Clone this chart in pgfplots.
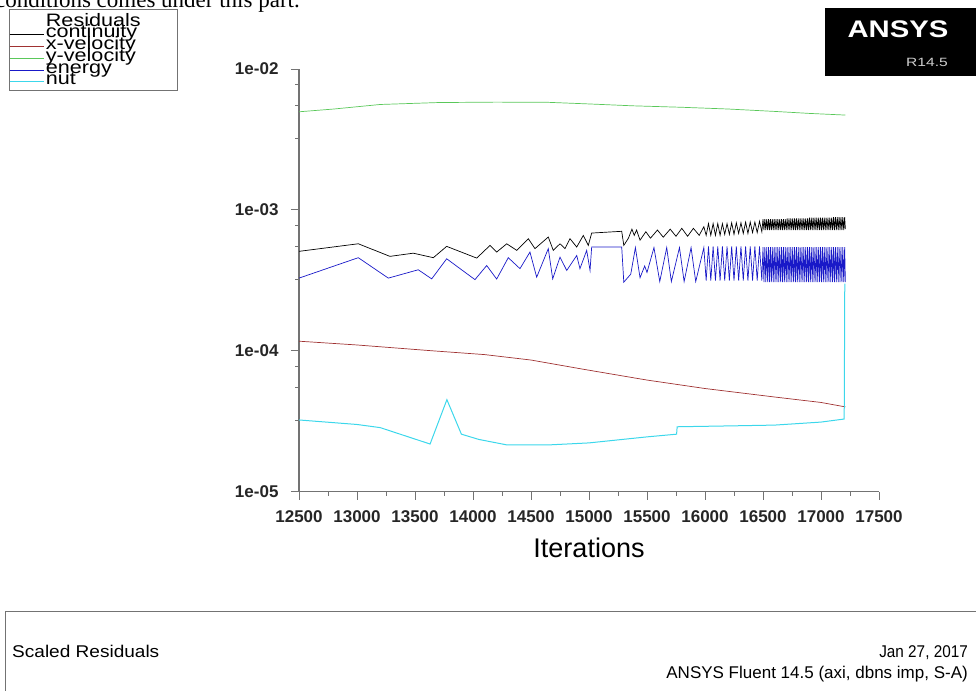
\documentclass[border=0pt]{standalone}
\usepackage{fontspec}
\setmainfont{Liberation Sans}
\newfontfamily\serifface{Liberation Serif}
\usepackage{pgfplots}
\usepackage{pgfplotstable}
\pgfplotsset{compat=1.18}

\definecolor{cont}{RGB}{0,0,0}
\definecolor{xvel}{RGB}{160,50,50}
\definecolor{yvel}{RGB}{90,200,90}
\definecolor{ener}{RGB}{25,25,200}
\definecolor{nutc}{RGB}{60,215,235}
\definecolor{axgray}{RGB}{115,115,115}
\newcommand{\legtxt}[1]{\scalebox{1.2}[1]{#1}}

\pgfplotstableread{
it v
12500 4.97e-3
12800 5.20e-3
13200 5.60e-3
13700 5.78e-3
14200 5.82e-3
14650 5.80e-3
15000 5.65e-3
15375 5.48e-3
15800 5.35e-3
16200 5.20e-3
16600 5.00e-3
16900 4.84e-3
17210 4.71e-3
}\yveltab

\pgfplotstableread{
it v
12500 1.17e-4
13000 1.10e-4
13650 1.00e-4
14100 9.40e-5
14500 8.60e-5
14950 7.40e-5
15500 6.20e-5
16000 5.40e-5
16600 4.70e-5
17000 4.30e-5
17210 4.00e-5
}\xveltab

\pgfplotstableread{
it v
12500 3.23e-5
13000 3.00e-5
13200 2.85e-5
13630 2.18e-5
13775 4.50e-5
13900 2.56e-5
14050 2.35e-5
14290 2.15e-5
14660 2.15e-5
15000 2.22e-5
15500 2.45e-5
15755 2.56e-5
15760 2.89e-5
16200 2.93e-5
16600 2.97e-5
17000 3.12e-5
17200 3.28e-5
17205 3.00e-4
}\nuttab

\pgfplotstableread{
it v
12500 5.08e-4
13011 5.75e-4
13284 4.68e-4
13485 4.93e-4
13658 4.58e-4
13773 5.51e-4
14032 4.55e-4
14147 5.60e-4
14204 5.02e-4
14291 5.75e-4
14377 5.16e-4
14477 6.25e-4
14534 5.31e-4
14649 6.42e-4
14692 5.16e-4
14750 5.75e-4
14793 5.31e-4
14836 6.25e-4
14894 5.45e-4
14951 6.59e-4
14994 5.60e-4
15023 6.85e-4
15282 7.05e-4
15300 5.60e-4
15340 6.30e-4
15370 7.30e-4
15390 6.60e-4
15410 7.20e-4
15440 6.10e-4
15490 7.00e-4
15530 6.30e-4
15590 7.20e-4
15640 6.40e-4
15700 7.30e-4
15750 6.50e-4
15800 7.40e-4
15850 6.50e-4
15900 7.40e-4
15950 6.60e-4
15990 7.60e-4
16010 6.60e-4
16030 8.00e-4
16050 6.60e-4
16070 8.00e-4
16090 6.60e-4
16110 8.00e-4
16130 6.60e-4
16150 8.00e-4
16170 6.70e-4
16190 8.00e-4
16210 6.70e-4
16230 8.10e-4
16250 6.70e-4
16270 8.10e-4
16290 6.80e-4
16310 8.10e-4
16330 6.80e-4
16350 8.20e-4
16370 6.80e-4
16390 8.20e-4
16410 6.90e-4
16430 8.20e-4
16450 6.90e-4
16470 8.30e-4
16490 7.00e-4
16500 8.60e-4
16508 7.20e-4
16516 8.60e-4
16524 7.20e-4
16532 8.60e-4
16540 7.20e-4
16548 8.60e-4
16556 7.20e-4
16564 8.60e-4
16572 7.20e-4
16580 8.60e-4
16588 7.20e-4
16596 8.60e-4
16604 7.20e-4
16612 8.60e-4
16620 7.20e-4
16628 8.60e-4
16636 7.20e-4
16644 8.60e-4
16652 7.20e-4
16660 8.60e-4
16668 7.20e-4
16676 8.60e-4
16684 7.20e-4
16692 8.60e-4
16700 7.20e-4
16708 8.70e-4
16716 7.20e-4
16724 8.70e-4
16732 7.20e-4
16740 8.70e-4
16748 7.20e-4
16756 8.70e-4
16764 7.20e-4
16772 8.70e-4
16780 7.20e-4
16788 8.70e-4
16796 7.20e-4
16804 8.70e-4
16812 7.20e-4
16820 8.70e-4
16828 7.20e-4
16836 8.70e-4
16844 7.20e-4
16852 8.70e-4
16860 7.20e-4
16868 8.70e-4
16876 7.20e-4
16884 8.70e-4
16892 7.20e-4
16900 8.80e-4
16908 7.20e-4
16916 8.80e-4
16924 7.20e-4
16932 8.80e-4
16940 7.20e-4
16948 8.80e-4
16956 7.20e-4
16964 8.80e-4
16972 7.20e-4
16980 8.80e-4
16988 7.20e-4
16996 8.80e-4
17004 7.20e-4
17012 8.80e-4
17020 7.20e-4
17028 8.80e-4
17036 7.20e-4
17044 8.80e-4
17052 7.20e-4
17060 8.80e-4
17068 7.20e-4
17076 8.80e-4
17084 7.20e-4
17092 8.80e-4
17100 7.20e-4
17108 8.90e-4
17116 7.20e-4
17124 8.90e-4
17132 7.20e-4
17140 8.90e-4
17148 7.20e-4
17156 8.90e-4
17164 7.20e-4
17172 8.90e-4
17180 7.20e-4
17188 8.90e-4
17196 7.20e-4
17204 8.90e-4
17210 7.30e-4
}\conttab

\pgfplotstableread{
it v
12500 3.28e-4
13011 4.58e-4
13270 3.28e-4
13528 3.76e-4
13644 3.24e-4
13773 4.50e-4
14017 3.20e-4
14118 4.03e-4
14204 3.23e-4
14304 4.58e-4
14405 3.83e-4
14491 5.02e-4
14549 3.33e-4
14649 5.31e-4
14687 3.24e-4
14750 4.62e-4
14808 3.72e-4
14894 4.75e-4
14922 3.83e-4
14980 5.16e-4
15009 3.72e-4
15023 5.45e-4
15282 5.45e-4
15300 3.07e-4
15360 3.50e-4
15400 5.40e-4
15440 3.30e-4
15480 4.00e-4
15500 3.60e-4
15560 5.40e-4
15610 3.10e-4
15670 5.40e-4
15710 3.10e-4
15780 5.40e-4
15820 3.10e-4
15880 5.40e-4
15920 3.10e-4
15990 5.40e-4
16010 3.15e-4
16030 5.50e-4
16050 3.15e-4
16070 5.50e-4
16090 3.15e-4
16110 5.50e-4
16130 3.15e-4
16150 5.50e-4
16170 3.15e-4
16190 5.50e-4
16210 3.15e-4
16230 5.50e-4
16250 3.15e-4
16270 5.50e-4
16290 3.15e-4
16310 5.50e-4
16330 3.15e-4
16350 5.50e-4
16370 3.15e-4
16390 5.50e-4
16410 3.15e-4
16430 5.50e-4
16450 3.15e-4
16470 5.50e-4
16490 3.15e-4
16500 5.45e-4
16508 3.07e-4
16516 5.45e-4
16524 3.07e-4
16532 5.45e-4
16540 3.07e-4
16548 5.45e-4
16556 3.07e-4
16564 5.45e-4
16572 3.07e-4
16580 5.45e-4
16588 3.07e-4
16596 5.45e-4
16604 3.07e-4
16612 5.45e-4
16620 3.07e-4
16628 5.45e-4
16636 3.07e-4
16644 5.45e-4
16652 3.07e-4
16660 5.45e-4
16668 3.07e-4
16676 5.45e-4
16684 3.07e-4
16692 5.45e-4
16700 3.07e-4
16708 5.45e-4
16716 3.07e-4
16724 5.45e-4
16732 3.07e-4
16740 5.45e-4
16748 3.07e-4
16756 5.45e-4
16764 3.07e-4
16772 5.45e-4
16780 3.07e-4
16788 5.45e-4
16796 3.07e-4
16804 5.45e-4
16812 3.07e-4
16820 5.45e-4
16828 3.07e-4
16836 5.45e-4
16844 3.07e-4
16852 5.45e-4
16860 3.07e-4
16868 5.45e-4
16876 3.07e-4
16884 5.45e-4
16892 3.07e-4
16900 5.45e-4
16908 3.07e-4
16916 5.45e-4
16924 3.07e-4
16932 5.45e-4
16940 3.07e-4
16948 5.45e-4
16956 3.07e-4
16964 5.45e-4
16972 3.07e-4
16980 5.45e-4
16988 3.07e-4
16996 5.45e-4
17004 3.07e-4
17012 5.45e-4
17020 3.07e-4
17028 5.45e-4
17036 3.07e-4
17044 5.45e-4
17052 3.07e-4
17060 5.45e-4
17068 3.07e-4
17076 5.45e-4
17084 3.07e-4
17092 5.45e-4
17100 3.07e-4
17108 5.45e-4
17116 3.07e-4
17124 5.45e-4
17132 3.07e-4
17140 5.45e-4
17148 3.07e-4
17156 5.45e-4
17164 3.07e-4
17172 5.45e-4
17180 3.07e-4
17188 5.45e-4
17196 3.07e-4
17204 5.45e-4
17210 3.07e-4
}\enertab

\begin{document}
\begin{tikzpicture}[x=1pt,y=1pt]
\useasboundingbox (0pt,0pt) rectangle (976pt,690pt);
\clip (0pt,0pt) rectangle (976pt,690pt);
% page text above the screenshot (cut off)
\node[anchor=base east, inner sep=0pt, font=\serifface\fontsize{23}{23}\selectfont] at (300pt,682pt) {conditions comes under this part.};
% ANSYS logo
\fill[black] (825pt,614pt) rectangle (980pt,682pt);
\node[text=white, inner sep=0pt, font=\bfseries\fontsize{24}{24}\selectfont, anchor=base] at (898pt,652pt) {\scalebox{1.22}[1]{ANSYS}};
\node[text=white!80!black, inner sep=0pt, font=\fontsize{12}{12}\selectfont, anchor=base east] at (948pt,623pt) {\scalebox{1.3}[1]{R14.5}};
% bottom title box
\draw[axgray, line width=1pt] (5pt,-10pt) -- (5pt,78pt) -- (990pt,78pt);
\node[anchor=base west, inner sep=0pt, font=\fontsize{17}{17}\selectfont] at (12pt,32pt) {\scalebox{1.12}[1]{Scaled Residuals}};
\node[anchor=base east, inner sep=0pt, font=\fontsize{17}{17}\selectfont] at (968pt,32pt) {\scalebox{0.9}[1]{Jan 27, 2017}};
\node[anchor=base east, inner sep=0pt, font=\fontsize{17}{17}\selectfont] at (968pt,12pt) {ANSYS Fluent 14.5 (axi, dbns imp, S-A)};
% legend frame
\draw[axgray, line width=0.8pt] (9pt,681pt) rectangle (177pt,599.3pt);

\begin{axis}[
  at={(299pt,198.3pt)}, anchor=south west,
  scale only axis, width=580pt, height=422.7pt,
  ymode=log,
  xmin=12500, xmax=17500, ymin=1e-5, ymax=1e-2,
  scaled x ticks=false,
  axis x line*=bottom, axis y line*=left,
  axis line style={axgray, line width=1.2pt},
  tick style={axgray, line width=1pt},
  tick align=outside,
  major tick length=8pt, minor tick length=4pt,
  xtick={12500,13000,13500,14000,14500,15000,15500,16000,16500,17000,17500},
  xticklabels={12500,13000,13500,14000,14500,15000,15500,16000,16500,17000,17500},
  minor xtick={12750,13250,13750,14250,14750,15250,15750,16250,16750,17250},
  ytick={1e-5,1e-4,1e-3,1e-2},
  yticklabels={1e-05,1e-04,1e-03,1e-02},
  minor ytick={3.2e-5,5.5e-5,7.8e-5,3.2e-4,5.5e-4,7.8e-4,3.2e-3,5.5e-3,7.8e-3},
  ticklabel style={font=\bfseries\fontsize{17}{17}\selectfont, text=black!85},
  yticklabel style={xshift=-9pt},
  xticklabel style={yshift=-7pt},
  xlabel={Iterations},
  xlabel style={font=\fontsize{27}{27}\selectfont, anchor=base, at={(axis description cs:0.5,-0.1568)}, inner sep=0pt},
  legend style={at={(axis description cs:-0.5,1.123)}, anchor=north west, draw=none, fill=none,
    inner sep=0pt, row sep=0pt, column sep=2pt,
    nodes={inner sep=0pt, text height=9pt, text depth=2.7pt, font=\fontsize{18}{18}\selectfont}},
  legend cell align=left,
  legend image code/.code={\draw[#1, line width=0.7pt] (0pt,0pt) -- (34pt,0pt);},
  every axis plot/.append style={line width=0.7pt},
]
\addlegendimage{empty legend}
\addlegendentry{\legtxt{Residuals}}
\addplot[cont] table[x=it,y=v] {\conttab};
\addlegendentry{\legtxt{continuity}}
\addplot[xvel] table[x=it,y=v] {\xveltab};
\addlegendentry{\legtxt{x-velocity}}
\addplot[yvel] table[x=it,y=v] {\yveltab};
\addlegendentry{\legtxt{y-velocity}}
\addplot[ener] table[x=it,y=v] {\enertab};
\addlegendentry{\legtxt{energy}}
\addplot[nutc, line width=1pt] table[x=it,y=v] {\nuttab};
\addlegendentry{\legtxt{nut}}
\end{axis}
\end{tikzpicture}
\end{document}
